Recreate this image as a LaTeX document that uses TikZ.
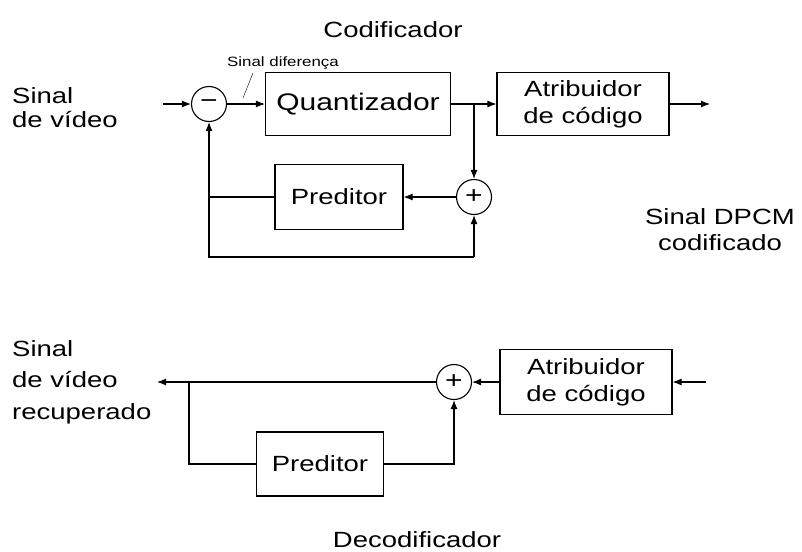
\documentclass[tikz,border=0pt]{standalone}
\usepackage{fontspec}
\setmainfont{Liberation Sans}[FakeStretch=1.25]
\usepackage{tikz}
\usetikzlibrary{arrows,arrows.meta,shapes}

\tikzset{
  blk/.style={rectangle, draw, line width=1.1pt, text=black, font=\fontsize{22}{27}\selectfont, align=center},
  soma/.style={circle, draw, line width=1.1pt, minimum size=35pt, inner sep=0pt, font=\fontsize{24}{24}\selectfont},
  lig/.style={line width=1.1pt},
  seta/.style={line width=1.1pt, -{Latex[length=9pt, width=7pt]}},
  txt/.style={font=\fontsize{22}{24}\selectfont}
}

\begin{document}
\begin{tikzpicture}[x=1pt, y=-1pt]
\useasboundingbox (0,0) rectangle (802,551);

% codificador
\node[txt] (cod) at (393,30) {Codificador};
\node[font=\fontsize{13.5}{15}\selectfont] (sdif) at (283,63) {Sinal diferença};
\node[txt, align=left, anchor=west, inner sep=0pt] (ent) at (12,108) {Sinal\\de vídeo};

\coordinate (e1) at (163,104);
\node[soma] (sub) at (209,104) {−};
\node[blk, minimum width=185pt, minimum height=63pt, font=\fontsize{24}{27}\selectfont] (quant) at (358,104) {Quantizador};
\node[blk, minimum width=172pt, minimum height=63pt] (atr) at (583,104) {Atribuidor\\de código};
\coordinate (s1) at (710,104);
\coordinate (ram) at (474,104);
\node[soma] (ad) at (474,197) {+};
\node[blk, minimum width=128pt, minimum height=65pt] (pred) at (339,197) {Preditor};
\coordinate (j1) at (209,197);
\coordinate (b1) at (209,257);
\coordinate (b2) at (474,257);
\coordinate (pd) at (243,98);
\node[txt, align=center, font=\fontsize{22}{26}\selectfont] (dpcm) at (720,230) {Sinal DPCM\\codificado};

\draw[seta] (e1) -- (sub);
\draw[seta] (sub) -- (quant);
\draw[seta] (quant) -- (atr);
\draw[seta] (atr) -- (s1);
\draw[seta] (ram) -- (ad);
\draw[seta] (ad) -- (pred);
\draw[lig] (pred) -- (j1) -- (b1) -- (b2);
\draw[seta] (j1) -- (sub);
\draw[seta] (b2) -- (ad);
\draw[thin] ([xshift=-30pt]sdif.south) -- (pd);

% decodificador
\node[txt, align=left, anchor=west, inner sep=0pt, font=\fontsize{22}{31.5}\selectfont] (sai) at (12,382) {Sinal\\de vídeo\\recuperado};
\coordinate (s2) at (157,382);
\node[soma] (ad2) at (454,382) {+};
\node[blk, minimum width=172pt, minimum height=65pt] (atr2) at (586,382) {Atribuidor\\de código};
\coordinate (e2) at (706,382);
\coordinate (j2) at (189,382);
\node[blk, minimum width=127pt, minimum height=64pt] (pred2) at (320,464) {Preditor};
\coordinate (c2) at (189,464);
\coordinate (c3) at (454,464);
\node[txt] (dec) at (417,540) {Decodificador};

\draw[seta] (e2) -- (atr2);
\draw[seta] (atr2) -- (ad2);
\draw[seta] (ad2) -- (s2);
\draw[lig] (j2) -- (c2) -- (pred2);
\draw[seta] (pred2) -- (c3) -- (ad2);

\end{tikzpicture}
\end{document}
